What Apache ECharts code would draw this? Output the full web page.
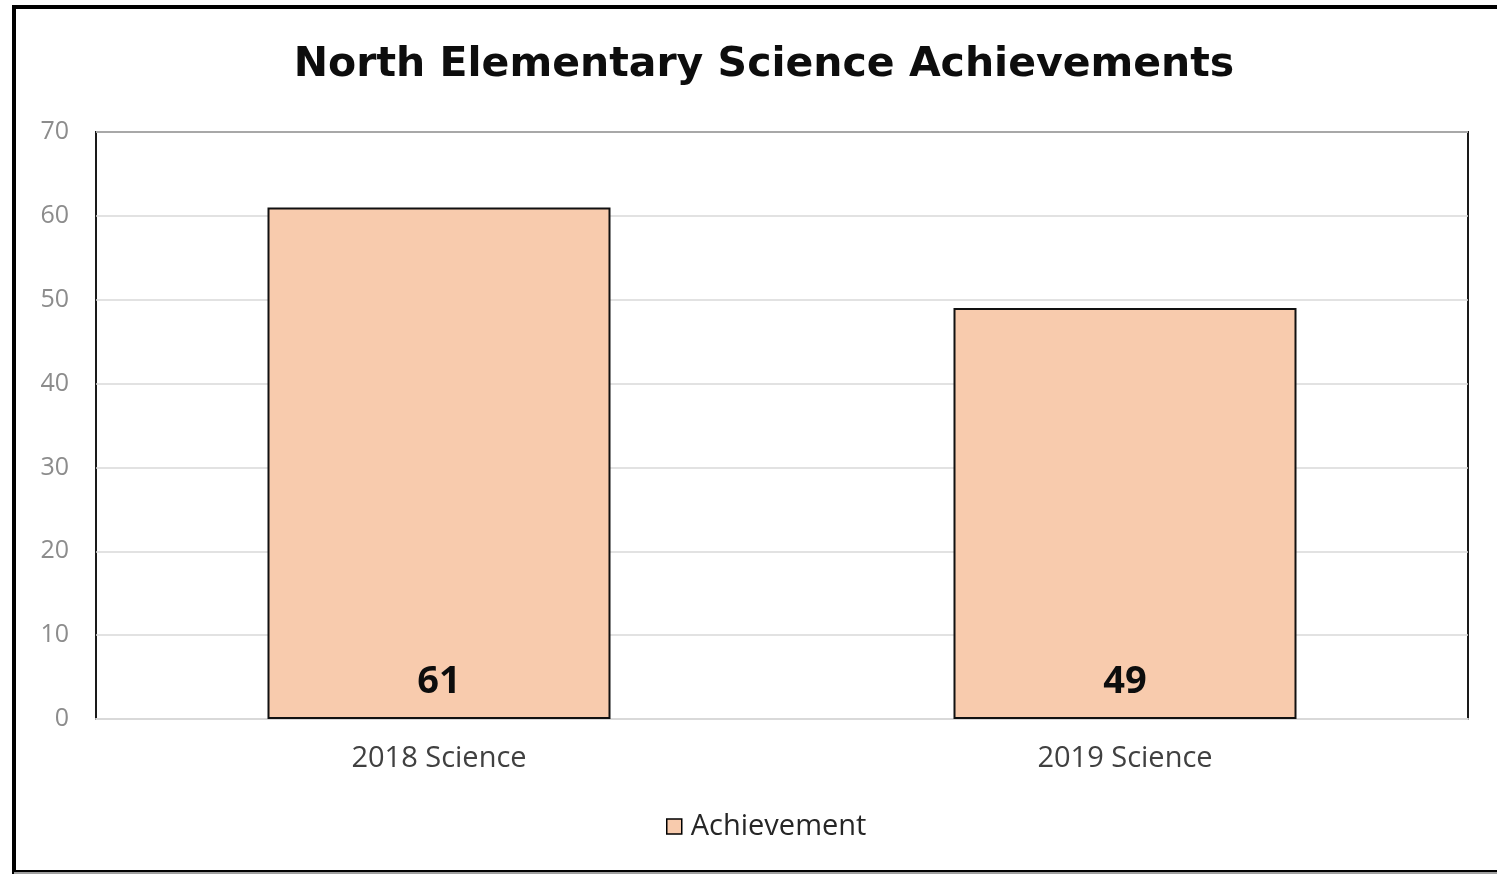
<!DOCTYPE html>
<html>
<head>
<meta charset="utf-8">
<script src="https://cdn.jsdelivr.net/npm/echarts@6/dist/echarts.min.js"></script>
<style>
html,body{margin:0;padding:0;background:#fff;}
#chart{width:1497px;height:875px;}
</style>
</head>
<body>
<div id="chart"></div>
<script>
const categories = ["2018 Science", "2019 Science"];
const achievement = [61, 49];
const seriesName = "Achievement";
const titleText = "North Elementary Science Achievements";

const chart = echarts.init(document.getElementById('chart'), null, {renderer: 'canvas'});
const option = {
  backgroundColor: '#ffffff',
  animation: false,
  title: {
    text: titleText,
    left: 759, top: 40, textAlign: 'center',
    textStyle: {fontFamily: 'DejaVu Sans', fontWeight: 'bold', fontSize: 41, color: '#0d0d0d'}
  },
  legend: {
    data: [seriesName],
    left: 661, top: 807,
    itemWidth: 15, itemHeight: 15, itemGap: 6,
    icon: 'rect',
    itemStyle: {borderColor: '#000', borderWidth: 1.5},
    textStyle: {fontFamily: 'Open Sans', fontSize: 29, color: '#262626', padding: [0,0,0,4]}
  },
  grid: {
    left: 96, right: 29, top: 132, bottom: 156,
    show: true, borderColor: '#1a1a1a', borderWidth: 2, backgroundColor: '#fff'
  },
  xAxis: {
    type: 'category', data: categories,
    axisLine: {show: true, lineStyle: {color: '#d9d9d9', width: 2}},
    axisTick: {show: false},
    axisLabel: {fontFamily: 'Open Sans', fontSize: 29, color: '#404040', margin: 25}
  },
  yAxis: {
    type: 'value', min: 0, max: 70, interval: 10,
    axisLine: {show: false}, axisTick: {show: false},
    splitLine: {lineStyle: {color: '#d9d9d9', width: 1.5}},
    axisLabel: {fontFamily: 'Open Sans', fontSize: 25, color: '#8c8c8c', margin: 27}
  },
  series: [{
    name: seriesName, type: 'bar', data: achievement, barWidth: '50%',
    itemStyle: {color: '#F8CBAD', borderColor: '#111', borderWidth: 2},
    label: {
      show: true, position: 'insideBottom', distance: 18,
      fontFamily: 'Open Sans', fontWeight: 'bold', fontSize: 38, color: '#0d0d0d'
    }
  }],
  graphic: [
    {type: 'rect', shape: {x: 14, y: 7, width: 1500, height: 865}, style: {fill: 'none', stroke: '#000', lineWidth: 4}, z: 100},
    {type: 'line', shape: {x1: 14, y1: 873, x2: 1497, y2: 873}, style: {stroke: '#a0a0a0', lineWidth: 2}, z: 101}
  ]
};
chart.setOption(option);
</script>
</body>
</html>
